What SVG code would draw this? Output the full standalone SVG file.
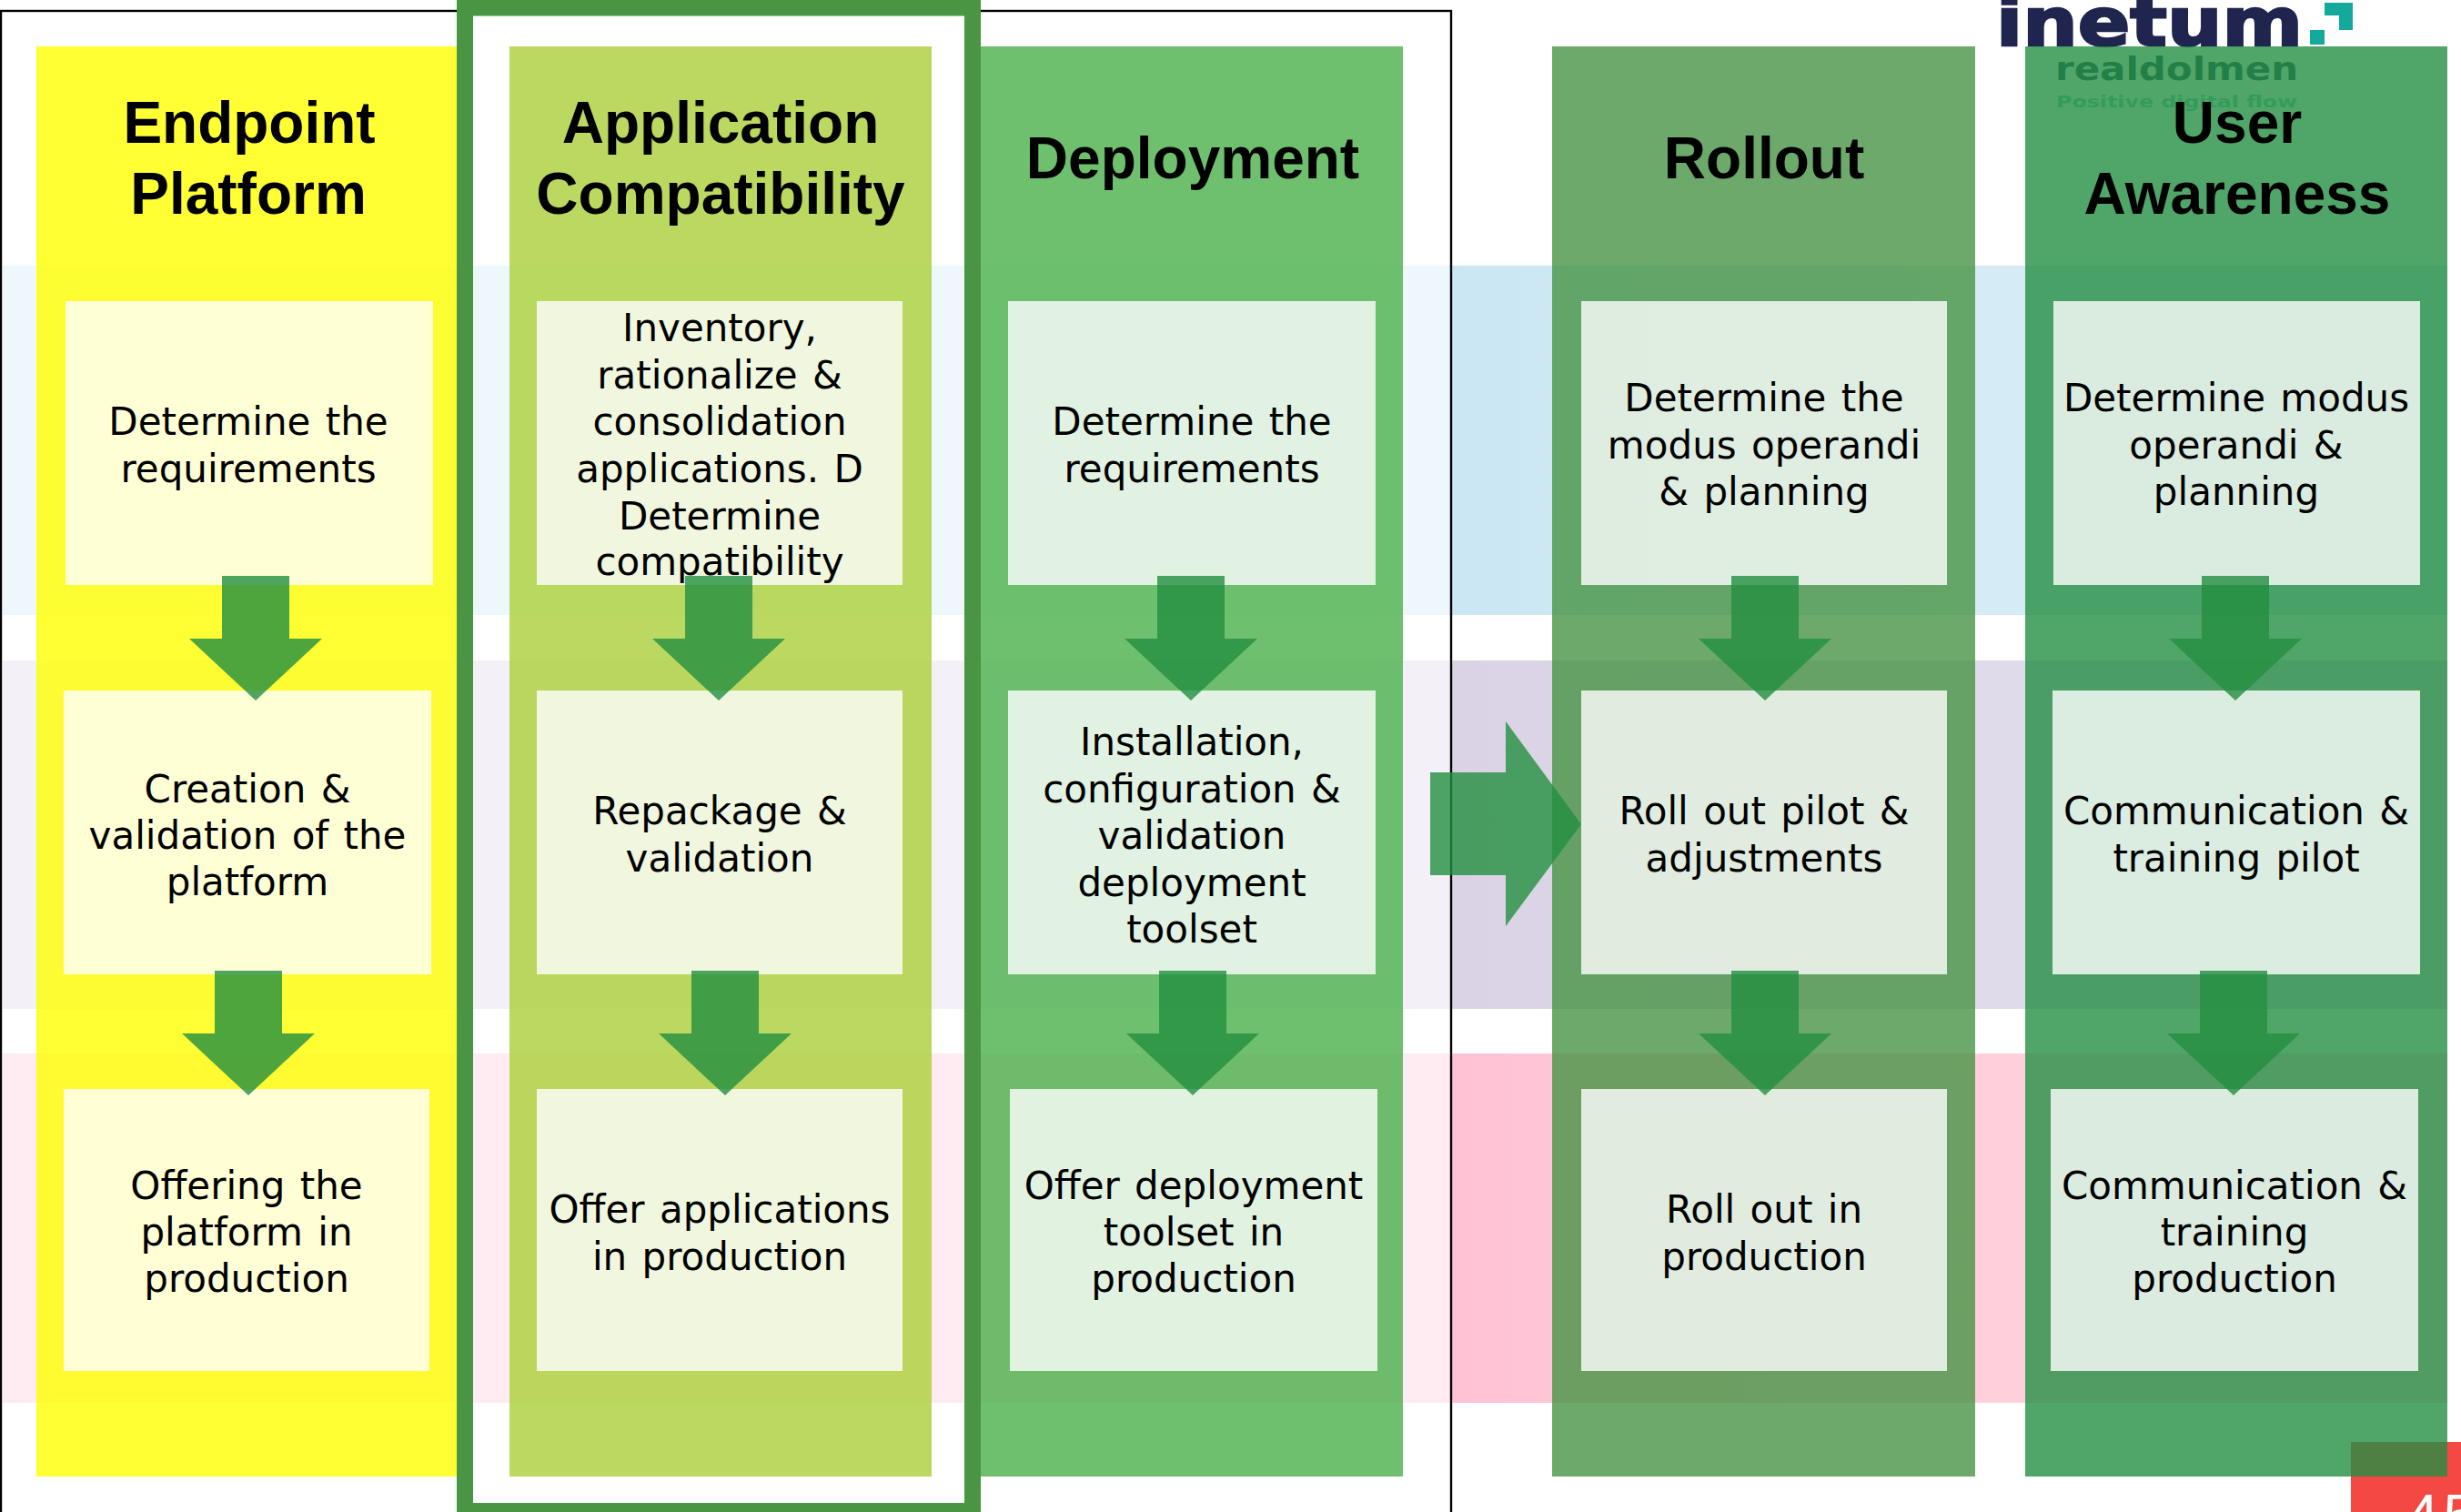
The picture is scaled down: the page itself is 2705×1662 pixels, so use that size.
<svg xmlns="http://www.w3.org/2000/svg" width="2705" height="1662" viewBox="0 0 2705 1662">
<style>
.col{fill-opacity:.8}
.box{fill:#fff;fill-opacity:.8}
.t{font-family:"DejaVu Sans",Verdana,sans-serif;font-size:42px;word-spacing:3px;fill:#000;text-anchor:middle}
.h{font-family:"Liberation Sans",Arial,sans-serif;font-weight:700;font-size:64px;fill:#000;text-anchor:middle}
.arrow{fill:#238F40;fill-opacity:.8}
</style>
<defs>
<linearGradient id="b1" gradientUnits="userSpaceOnUse" x1="1600" y1="0" x2="2200" y2="0"><stop offset="0" stop-color="#CBE7F3"/><stop offset="1" stop-color="#D5EBF5"/></linearGradient>
<linearGradient id="b2" gradientUnits="userSpaceOnUse" x1="1600" y1="0" x2="2200" y2="0"><stop offset="0" stop-color="#DAD3E6"/><stop offset="1" stop-color="#E0DBEA"/></linearGradient>
<linearGradient id="b3" gradientUnits="userSpaceOnUse" x1="1600" y1="0" x2="2200" y2="0"><stop offset="0" stop-color="#FFC2D4"/><stop offset="1" stop-color="#FFD0DC"/></linearGradient>
<polygon id="down" points="-37,0 37,0 37,69 73,69 0,137 -73,69 -37,69"/>
</defs>
<rect width="2705" height="1662" fill="#fff"/>
<g id="bands">
<rect x="3" y="292" width="2687" height="384" fill="url(#b1)"/>
<rect x="3" y="726" width="2687" height="383" fill="url(#b2)"/>
<rect x="3" y="1158" width="2687" height="384" fill="url(#b3)"/>
<rect x="0" y="0" width="1596" height="1662" fill="#fff" fill-opacity=".67"/>
<rect x="1" y="12" width="1594" height="1660" fill="none" stroke="#000" stroke-width="2.4"/>
</g>
<g id="logo">
<text x="2194" y="50" font-family="'DejaVu Sans',sans-serif" font-weight="700" font-size="73" fill="#20254F" stroke="#20254F" stroke-width="2.5" textLength="337" lengthAdjust="spacingAndGlyphs">inetum</text>
<path d="M2555 3H2586V33H2571V17H2555ZM2539 33H2555V49H2539Z" fill="#14A99A"/>
<text x="2259" y="88" font-family="'DejaVu Sans',sans-serif" font-weight="700" font-size="36" fill="#1F405D" textLength="267" lengthAdjust="spacingAndGlyphs">realdolmen</text>
<text x="2260" y="118" font-family="'DejaVu Sans',sans-serif" font-weight="700" font-size="17" fill="#70D0B0" textLength="265" lengthAdjust="spacingAndGlyphs">Positive digital flow</text>
</g>
<g id="page-number">
<rect x="2584" y="1585" width="121" height="77" fill="#F44942"/>
<text x="2645" y="1688" font-family="'Liberation Sans',sans-serif" font-size="64" letter-spacing="5" fill="#fff">45</text>
</g>
<g id="col-endpoint">
<rect class="col" x="40" y="51" width="464" height="1572" fill="#FFFF00"/>
<text class="h" x="274" y="157">Endpoint</text>
<text class="h" x="273" y="235">Platform</text>
</g>
<g id="col-application">
<rect class="col" x="560" y="51" width="464" height="1572" fill="#AACF38"/>
<text class="h" x="792" y="157">Application</text>
<text class="h" x="792" y="235">Compatibility</text>
</g>
<g id="col-deployment">
<rect class="col" x="1078" y="51" width="464" height="1572" fill="#4AB04A"/>
<text class="h" x="1311" y="196">Deployment</text>
</g>
<g id="col-rollout">
<rect class="col" x="1706" y="51" width="465" height="1572" fill="#479445"/>
<text class="h" x="1939" y="196">Rollout</text>
</g>
<g id="col-awareness">
<rect class="col" x="2226" y="51" width="464" height="1572" fill="#248F44"/>
<text class="h" x="2459" y="157">User</text>
<text class="h" x="2459" y="235">Awareness</text>
</g>
<g id="highlight">
<rect x="511" y="8.5" width="558" height="1652.5" fill="none" stroke="#4A9543" stroke-width="18"/>
</g>
<g id="box-1-1"><rect class="box" x="72" y="331" width="404" height="312"/>
<text class="t" x="273" y="478">Determine the</text><text class="t" x="273" y="530">requirements</text></g>
<g id="box-1-2"><rect class="box" x="70" y="759" width="404" height="312"/>
<text class="t" x="272" y="882">Creation &amp;</text><text class="t" x="272" y="933">validation of the</text><text class="t" x="272" y="984">platform</text></g>
<g id="box-1-3"><rect class="box" x="70" y="1197" width="402" height="310"/>
<text class="t" x="271" y="1318">Offering the</text><text class="t" x="271" y="1369">platform in</text><text class="t" x="271" y="1420">production</text></g>
<g id="box-2-1"><rect class="box" x="590" y="331" width="402" height="312"/>
<text class="t" x="791" y="375">Inventory,</text><text class="t" x="791" y="427">rationalize &amp;</text><text class="t" x="791" y="478">consolidation</text><text class="t" x="791" y="530">applications. D</text><text class="t" x="791" y="582">Determine</text><text class="t" x="791" y="632">compatibility</text></g>
<g id="box-2-2"><rect class="box" x="590" y="759" width="402" height="312"/>
<text class="t" x="791" y="906">Repackage &amp;</text><text class="t" x="791" y="958">validation</text></g>
<g id="box-2-3"><rect class="box" x="590" y="1197" width="402" height="310"/>
<text class="t" x="791" y="1344">Offer applications</text><text class="t" x="791" y="1396">in production</text></g>
<g id="box-3-1"><rect class="box" x="1108" y="331" width="404" height="312"/>
<text class="t" x="1310" y="478">Determine the</text><text class="t" x="1310" y="530">requirements</text></g>
<g id="box-3-2"><rect class="box" x="1108" y="759" width="404" height="312"/>
<text class="t" x="1310" y="830">Installation,</text><text class="t" x="1310" y="882">configuration &amp;</text><text class="t" x="1310" y="933">validation</text><text class="t" x="1310" y="985">deployment</text><text class="t" x="1310" y="1036">toolset</text></g>
<g id="box-3-3"><rect class="box" x="1110" y="1197" width="404" height="310"/>
<text class="t" x="1312" y="1318">Offer deployment</text><text class="t" x="1312" y="1369">toolset in</text><text class="t" x="1312" y="1420">production</text></g>
<g id="box-4-1"><rect class="box" x="1738" y="331" width="402" height="312"/>
<text class="t" x="1939" y="452">Determine the</text><text class="t" x="1939" y="504">modus operandi</text><text class="t" x="1939" y="555">&amp; planning</text></g>
<g id="box-4-2"><rect class="box" x="1738" y="759" width="402" height="312"/>
<text class="t" x="1939" y="906">Roll out pilot &amp;</text><text class="t" x="1939" y="958">adjustments</text></g>
<g id="box-4-3"><rect class="box" x="1738" y="1197" width="402" height="310"/>
<text class="t" x="1939" y="1344">Roll out in</text><text class="t" x="1939" y="1396">production</text></g>
<g id="box-5-1"><rect class="box" x="2257" y="331" width="403" height="312"/>
<text class="t" x="2458" y="452">Determine modus</text><text class="t" x="2458" y="504">operandi &amp;</text><text class="t" x="2458" y="555">planning</text></g>
<g id="box-5-2"><rect class="box" x="2256" y="759" width="404" height="312"/>
<text class="t" x="2458" y="906">Communication &amp;</text><text class="t" x="2458" y="958">training pilot</text></g>
<g id="box-5-3"><rect class="box" x="2254" y="1197" width="404" height="310"/>
<text class="t" x="2456" y="1318">Communication &amp;</text><text class="t" x="2456" y="1369">training</text><text class="t" x="2456" y="1420">production</text></g>
<g id="connectors">
<use href="#down" class="arrow" x="281" y="633"/>
<use href="#down" class="arrow" x="790" y="633"/>
<use href="#down" class="arrow" x="1309" y="633"/>
<use href="#down" class="arrow" x="1940" y="633"/>
<use href="#down" class="arrow" x="2457" y="633"/>
<use href="#down" class="arrow" x="273" y="1067"/>
<use href="#down" class="arrow" x="797" y="1067"/>
<use href="#down" class="arrow" x="1311" y="1067"/>
<use href="#down" class="arrow" x="1940" y="1067"/>
<use href="#down" class="arrow" x="2455" y="1067"/>
<polygon class="arrow" points="1572,849 1655,849 1655,793 1738,906 1655,1018 1655,962 1572,962"/>
</g>
</svg>
